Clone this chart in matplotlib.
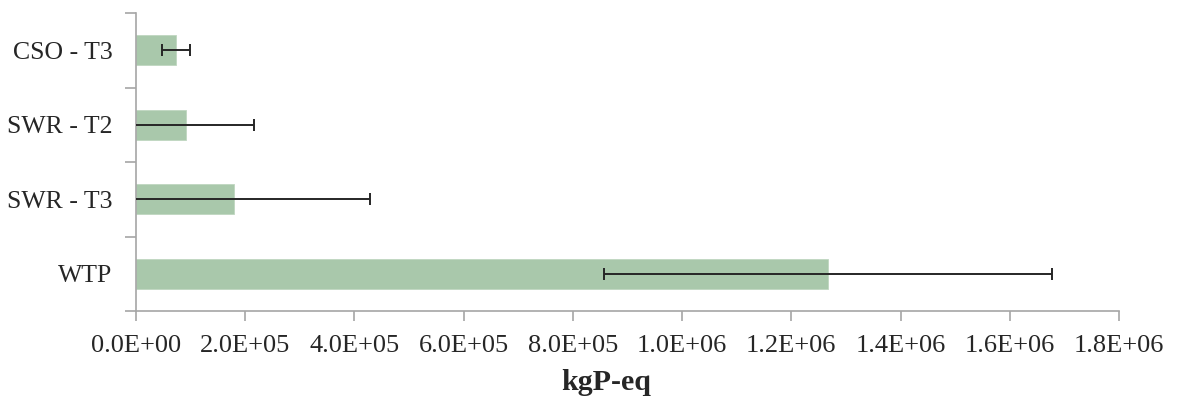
import numpy as np
import matplotlib
matplotlib.use('agg')
import matplotlib.pyplot as plt
from matplotlib.ticker import FixedLocator, FuncFormatter

matplotlib.rc('font', family='Liberation Serif', size=19)

# Data (bottom to top, as in the original chart)
categories = ['WTP', 'SWR - T3', 'SWR - T2', 'CSO - T3']
values = [1.267e6, 0.180e6, 0.0915e6, 0.0735e6]
errors = [0.410e6, 0.249e6, 0.124e6, 0.026e6]
x_label = 'kgP-eq'

bar_color = '#A9C8AB'
axis_color = '#A6A6A6'
text_color = '#262626'

fig = plt.figure(figsize=(11.77, 4.03), dpi=100)
ax = fig.add_axes([136 / 1177, 92 / 403, (1119 - 136) / 1177, (311 - 13) / 403])

pos = np.arange(len(categories))
ax.barh(pos, values, height=0.4, color=bar_color, edgecolor='#BFD6C0', linewidth=0.6, zorder=2)
ax.errorbar(values, pos, xerr=errors, fmt='none', ecolor=text_color,
            elinewidth=1.4, capsize=4.3, capthick=1.4, zorder=3)

ax.set_xlim(0, 1.8e6)
ax.set_ylim(-0.5, len(categories) - 0.5)

ax.set_xticks(np.arange(0, 1.8e6 + 1, 2e5))
ax.xaxis.set_major_formatter(FuncFormatter(lambda v, p: '%.1E' % v))
ax.set_yticks(pos)
ax.set_yticklabels(categories, fontsize=18.5)
ax.yaxis.set_minor_locator(FixedLocator(np.arange(-0.5, len(categories), 1.0)))

for s in ['top', 'right']:
    ax.spines[s].set_visible(False)
for s in ['left', 'bottom']:
    ax.spines[s].set_color(axis_color)
    ax.spines[s].set_linewidth(1.2)

ax.tick_params(axis='x', direction='out', length=7, width=1.2, color=axis_color,
               pad=10, labelcolor=text_color)
ax.tick_params(axis='y', which='major', length=0, pad=17, labelcolor=text_color)
ax.tick_params(axis='y', which='minor', direction='out', length=8, width=1.2, color=axis_color)

ax.set_xlabel(x_label, fontweight='bold', fontsize=21.5, color=text_color)
ax.xaxis.set_label_coords(0.478, -0.195)

fig.savefig('out.png', dpi=100)
